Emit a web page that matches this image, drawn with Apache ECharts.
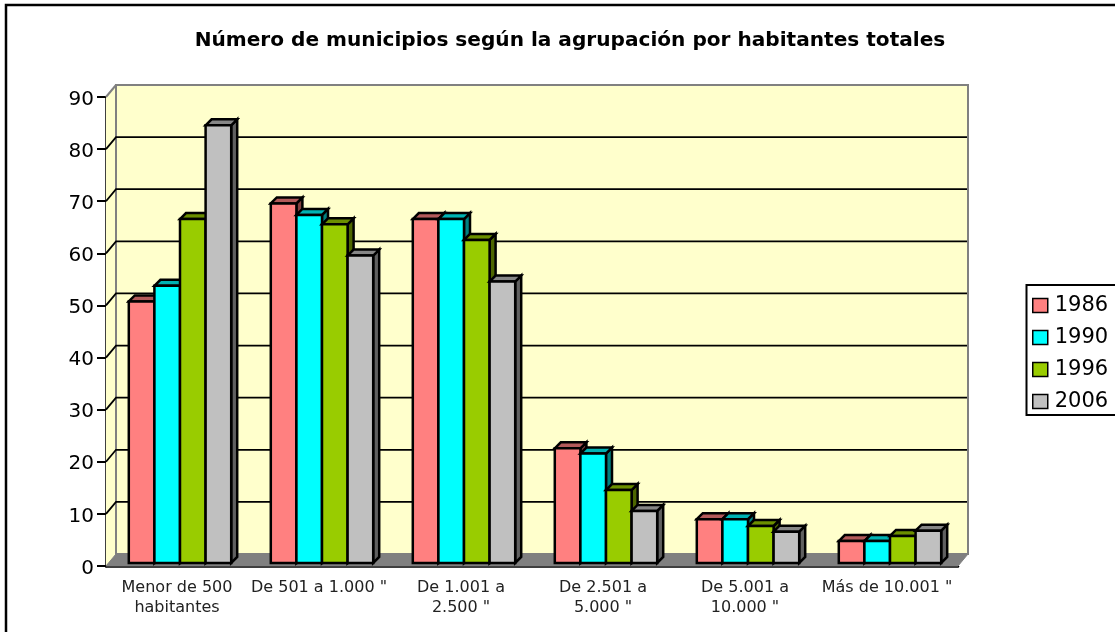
<!DOCTYPE html>
<html lang="es">
<head>
    <meta charset="UTF-8">
    <title></title>
    <style>html, body { margin: 0; padding: 0; background: #fff; }</style>
</head>
<body>
<div id="main" style="width: 1115px;height: 632px"></div>
<script src="https://cdn.jsdelivr.net/npm/echarts@6/dist/echarts.min.js"></script>
<script>
    var categories = ['Menor de 500\nhabitantes', 'De 501 a 1.000 "', 'De 1.001 a\n2.500 "', 'De 2.501 a\n5.000 "', 'De 5.001 a\n10.000 "', 'Más de 10.001 "'];
    var years = ['1986', '1990', '1996', '2006'];
    var values1986 = [50.2, 69, 66, 22, 8.4, 4.2];
    var values1990 = [53.2, 66.8, 66, 21, 8.4, 4.2];
    var values1996 = [66, 65, 62, 14, 7.1, 5.2];
    var values2006 = [84, 59, 54, 10, 6, 6.2];
    var yTicks = [0, 10, 20, 30, 40, 50, 60, 70, 80, 90];
    var colors = ['#FF8080', '#00FFFF', '#99CC00', '#C0C0C0'];
    var sideColors = ['#804040', '#008080', '#4D6600', '#606060'];
    var topColors = ['#B35A5A', '#00B3B3', '#6B8F00', '#868686'];

    var WALL_DX = 10, WALL_DY = 12;
    var BAR_DEPTH = 6, BAR_W = 25.6, BAR_X = 3, BAR_Y = 3;

    function renderWalls(params, api) {
        var c = params.coordSys;
        var l = c.x, r = c.x + c.width, t = c.y, b = c.y + c.height;
        var children = [
            {type: 'polygon', shape: {points: [[l, t], [l + WALL_DX, t - WALL_DY], [l + WALL_DX, b - WALL_DY], [l, b]]},
                style: {fill: '#FFFFCC', stroke: null}},
            {type: 'rect', shape: {x: l + WALL_DX, y: t - WALL_DY, width: c.width, height: c.height},
                style: {fill: '#FFFFCC', stroke: '#808080', lineWidth: 2}},
            {type: 'polygon', shape: {points: [[l, b], [l + WALL_DX, b - WALL_DY], [r + WALL_DX, b - WALL_DY], [r, b]]},
                style: {fill: '#808080', stroke: '#808080', lineWidth: 1}},
            {type: 'line', shape: {x1: l, y1: t, x2: l + WALL_DX, y2: t - WALL_DY},
                style: {stroke: '#808080', lineWidth: 2}}
        ];
        for (var i = 1; i < yTicks.length - 1; i++) {
            var p = api.coord([0, yTicks[i]]);
            children.push({type: 'polyline', shape: {points: [[l, p[1]], [l + WALL_DX, p[1] - WALL_DY], [r + WALL_DX - 1, p[1] - WALL_DY]]},
                style: {fill: null, stroke: '#000', lineWidth: 1.8}});
        }
        return {type: 'group', children: children};
    }

    function barRenderer(idx) {
        return function (params, api) {
            var base = api.coord([api.value(0), 0]);
            var top = api.coord([api.value(0), api.value(1)]);
            var x0 = base[0] + BAR_X - 2 * BAR_W + idx * BAR_W;
            var x1 = x0 + BAR_W;
            var y0 = top[1] - BAR_Y;
            var y1 = base[1] - BAR_Y;
            var d = BAR_DEPTH;
            var st = {stroke: '#000', lineWidth: 2.5, lineJoin: 'miter'};
            return {type: 'group', children: [
                {type: 'polygon', shape: {points: [[x1, y0], [x1 + d, y0 - d], [x1 + d, y1 - d], [x1, y1]]},
                    style: Object.assign({fill: sideColors[idx]}, st)},
                {type: 'polygon', shape: {points: [[x0, y0], [x0 + d, y0 - d], [x1 + d, y0 - d], [x1, y0]]},
                    style: Object.assign({fill: topColors[idx]}, st)},
                {type: 'rect', shape: {x: x0, y: y0, width: BAR_W, height: y1 - y0},
                    style: Object.assign({fill: colors[idx]}, st)}
            ]};
        };
    }

    var allValues = [values1986, values1990, values1996, values2006];
    var series = [{
        type: 'custom',
        name: 'paredes',
        silent: true,
        renderItem: renderWalls,
        data: [[0, 0]]
    }];
    years.forEach(function (y, i) {
        series.push({
            type: 'custom',
            name: y,
            itemStyle: {color: colors[i]},
            encode: {x: 0, y: 1},
            renderItem: barRenderer(i),
            data: allValues[i].map(function (v, k) { return [k, v]; })
        });
    });

    var myChart = echarts.init(document.getElementById('main'));
    myChart.setOption({
        animation: false,
        backgroundColor: '#fff',
        title: {
            text: 'Número de municipios según la agrupación por habitantes totales',
            left: 565,
            textAlign: 'center',
            top: 26,
            textStyle: {fontFamily: 'DejaVu Sans', fontWeight: 'bold', fontSize: 20.1, color: '#000'}
        },
        legend: {
            orient: 'vertical',
            left: 1032,
            top: 292,
            padding: 0,
            icon: 'rect',
            itemWidth: 15,
            itemHeight: 14,
            itemGap: 5,
            itemStyle: {borderColor: '#000', borderWidth: 1.5},
            textStyle: {fontFamily: 'DejaVu Sans', fontSize: 21, color: '#000', padding: [2, 0, 0, 2], lineHeight: 25},
            data: years
        },
        graphic: [
            {type: 'rect', z: -10, silent: true, shape: {x: 6, y: 5, width: 1200, height: 700},
                style: {fill: 'none', stroke: '#000', lineWidth: 2.5}},
            {type: 'rect', z: -10, silent: true, shape: {x: 1026.5, y: 285, width: 200, height: 130},
                style: {fill: '#fff', stroke: '#000', lineWidth: 2}}
        ],
        grid: {left: 106, top: 97, width: 852, height: 469},
        xAxis: {
            type: 'category',
            data: categories,
            axisLine: {lineStyle: {color: '#000', width: 2.5}},
            axisTick: {alignWithLabel: false, length: 7, lineStyle: {color: '#000', width: 2}},
            axisLabel: {interval: 0, margin: 12, fontFamily: 'DejaVu Sans', fontSize: 16, color: '#222', lineHeight: 20}
        },
        yAxis: {
            type: 'value',
            min: 0,
            max: 90,
            interval: 10,
            splitLine: {show: false},
            axisLine: {show: true, lineStyle: {color: '#000', width: 2.5}},
            axisTick: {show: true, length: 9, lineStyle: {color: '#000', width: 2}},
            axisLabel: {margin: 12, fontFamily: 'DejaVu Sans', fontSize: 20, color: '#000', verticalAlign: 'top', lineHeight: 5}
        },
        series: series
    });
</script>
</body>
</html>
